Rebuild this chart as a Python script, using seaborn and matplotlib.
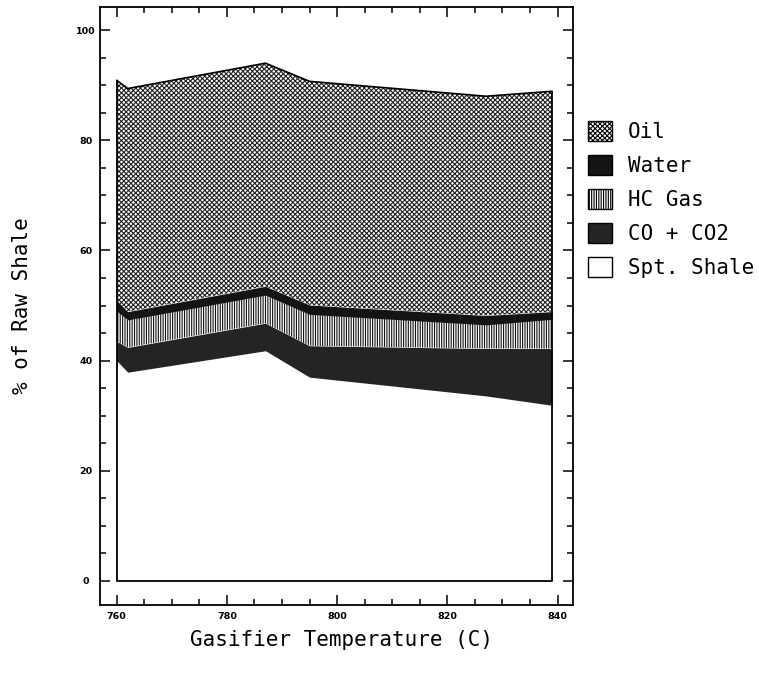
import numpy as np
import matplotlib
matplotlib.use("Agg")
import matplotlib.pyplot as plt
import seaborn as sns
from matplotlib.patches import Patch
from matplotlib.ticker import MultipleLocator
from matplotlib.font_manager import FontProperties

# ---- data ----
temps = [760, 762, 787, 795, 827, 839]
spt_shale = [40.0, 37.9, 41.8, 37.0, 33.6, 31.9]
co_co2 = [3.5, 4.5, 5.0, 5.7, 8.6, 10.3]
hc_gas = [5.5, 5.0, 5.1, 5.7, 4.3, 5.3]
water = [2.0, 1.5, 1.6, 1.7, 1.7, 1.4]
oil = [39.9, 40.5, 40.5, 40.6, 39.8, 40.0]

labels = ["Oil", "Water", "HC Gas", "CO + CO2", "Spt. Shale"]
x_ticks = [760, 780, 800, 820, 840]
y_ticks = [0, 20, 40, 60, 80, 100]

sns.set_theme(style="ticks")
plt.rcParams["font.family"] = ["DejaVu Sans"]
plt.rcParams["hatch.linewidth"] = 0.8
plt.rcParams["text.color"] = "black"

fig = plt.figure(figsize=(7.59, 6.73), dpi=100)
ax = fig.add_axes([100 / 759, 1 - 605 / 673, 473 / 759, 598 / 673])

x = np.array(temps, dtype=float)
layers = [np.array(spt_shale), np.array(co_co2), np.array(hc_gas),
          np.array(water), np.array(oil)]
cum = np.cumsum(np.vstack([np.zeros_like(x)] + layers), axis=0)

styles = [
    dict(facecolor="white", edgecolor="black", hatch=None),        # Spt. Shale
    dict(facecolor="#242424", edgecolor="#3c3c3c", hatch=None),    # CO + CO2
    dict(facecolor="white", edgecolor="#111111", hatch="|||||||"), # HC Gas
    dict(facecolor="#141414", edgecolor="#141414", hatch=None),    # Water
    dict(facecolor="white", edgecolor="#222222", hatch="xxxxxxx"), # Oil
]
for i, st in enumerate(styles):
    ax.fill_between(x, cum[i], cum[i + 1], facecolor=st["facecolor"],
                    edgecolor=st["edgecolor"], hatch=st["hatch"],
                    linewidth=0)

# outline of the stack
sns.lineplot(x=x, y=cum[-1], ax=ax, color="black", lw=1.2, sort=False)
sns.lineplot(x=[x[0], x[-1]], y=[0, 0], ax=ax, color="black", lw=1.3)
ax.vlines([x[0], x[-1]], 0, [cum[-1][0], cum[-1][-1]], color="black", lw=1.3)

ax.set_xlim(756.97, 842.8)
ax.set_ylim(-4.36, 104.2)
ax.xaxis.set_minor_locator(MultipleLocator(5))
ax.yaxis.set_minor_locator(MultipleLocator(5))
ax.set_xticks(x_ticks)
ax.set_yticks(y_ticks)
ax.set_xticklabels([str(v) for v in x_ticks])
ax.set_yticklabels([str(v) for v in y_ticks])

ax.tick_params(which="both", direction="in", top=True, right=True,
               width=1.1, color="black", labelcolor="black")
ax.tick_params(which="major", length=7.5)
ax.tick_params(which="minor", length=4)
ax.tick_params(axis="x", which="major", pad=5, labelsize=6.8)
ax.tick_params(axis="y", which="major", pad=10, labelsize=6.8)
for lab in ax.get_xticklabels() + ax.get_yticklabels():
    lab.set_fontweight("bold")
for lab in ax.get_yticklabels():
    lab.set_horizontalalignment("center")

for sp in ax.spines.values():
    sp.set_visible(True)
    sp.set_linewidth(1.3)
    sp.set_color("black")

mono = FontProperties(family="DejaVu Sans Mono", size=15)
ax.set_ylabel("% of Raw Shale", fontproperties=mono, color="black")
ax.yaxis.set_label_coords((21.7 - 100) / 473, 0.5)
ax.yaxis.label.set_verticalalignment("center")
ax.set_xlabel("Gasifier Temperature (C)", fontproperties=mono, color="black")
ax.xaxis.set_label_coords((342 - 100) / 473, (605 - 640) / 598)
ax.xaxis.label.set_verticalalignment("center")

leg_styles = [styles[4], styles[3], styles[2], styles[1], styles[0]]
handles = [Patch(facecolor=st["facecolor"], edgecolor="black",
                 hatch=st["hatch"], linewidth=1.0) for st in leg_styles]
leg = fig.legend(handles, labels, loc="upper left",
                 bbox_to_anchor=(588 / 759, 1 - 121 / 673), frameon=False,
                 borderpad=0, borderaxespad=0, handlelength=1.15,
                 handleheight=1.1, handletextpad=0.75, labelspacing=0.62,
                 prop=mono)
for t in leg.get_texts():
    t.set_color("black")

fig.savefig("out.png", dpi=100)
